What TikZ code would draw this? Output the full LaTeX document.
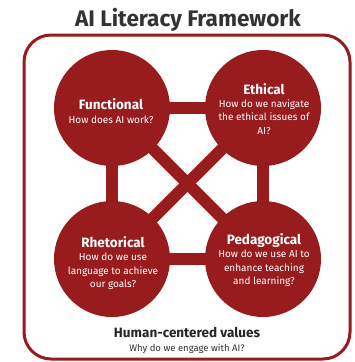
\documentclass[tikz,border=0pt]{standalone}
\usepackage{fontspec}
\setmainfont{Fira Sans}
\usetikzlibrary{backgrounds}
\definecolor{frRed}{HTML}{981B1E}
\definecolor{frText}{HTML}{333333}
\begin{document}
\begin{tikzpicture}[x=1pt,y=-1pt,
  disc/.style={circle,fill=frRed,draw=none,minimum size=116pt,inner sep=0pt},
  bar/.style={draw=frRed,line width=12pt},
  ttl/.style={text=white,font=\fontsize{13.5}{16}\selectfont\bfseries,inner sep=0pt,anchor=base},
  sub/.style={text=white,font=\fontsize{10}{12}\selectfont,inner sep=0pt,anchor=base},
  dark/.style={text=frText,inner sep=0pt,anchor=base},
]
\useasboundingbox (0,0) rectangle (354,362);
\draw[frRed,line width=3pt,rounded corners=27pt] (24,35) rectangle (350,359);

\node[dark,font=\fontsize{22.5}{26}\selectfont\bfseries] (title) at (188,26.5) {AI Literacy Framework};

\node[disc] (F) at (112,108) {};
\node[disc] (E) at (263,108) {};
\node[disc] (R) at (112,259) {};
\node[disc] (P) at (263,259) {};

\begin{scope}[on background layer]
\fill[white] (0,0) rectangle (354,362);
\draw[bar] (F.center) -- (E.center);
\draw[bar] (R.center) -- (P.center);
\draw[bar] (F.center) -- (R.center);
\draw[bar] (E.center) -- (P.center);
\draw[bar] (F.center) -- (P.center);
\draw[bar] (E.center) -- (R.center);
\end{scope}

\node[ttl] (Ft) at (111,109.5) {Functional};
\node[sub] (Fs1) at (111,123.5) {How does AI work?};

\node[ttl] (Et) at (264,94.5) {Ethical};
\node[sub] (Es1) at (264,107) {How do we navigate};
\node[sub] (Es2) at (264,120.5) {the ethical issues of};
\node[sub] (Es3) at (264,134) {AI?};

\node[ttl] (Rt) at (113,247.5) {Rhetorical};
\node[sub] (Rs1) at (113,260.5) {How do we use};
\node[sub] (Rs2) at (113,274) {language to achieve};
\node[sub] (Rs3) at (113,287.5) {our goals?};

\node[ttl] (Pt) at (264,244.5) {Pedagogical};
\node[sub] (Ps1) at (264,257.5) {How do we use AI to};
\node[sub] (Ps2) at (264,271) {enhance teaching};
\node[sub] (Ps3) at (264,284.5) {and learning?};

\node[dark,font=\fontsize{13.5}{16}\selectfont\bfseries,text=black!85] (Ht) at (187,337.5) {Human-centered values};
\node[dark,font=\fontsize{9.5}{11}\selectfont] (Hs) at (187,351) {Why do we engage with AI?};
\end{tikzpicture}
\end{document}
